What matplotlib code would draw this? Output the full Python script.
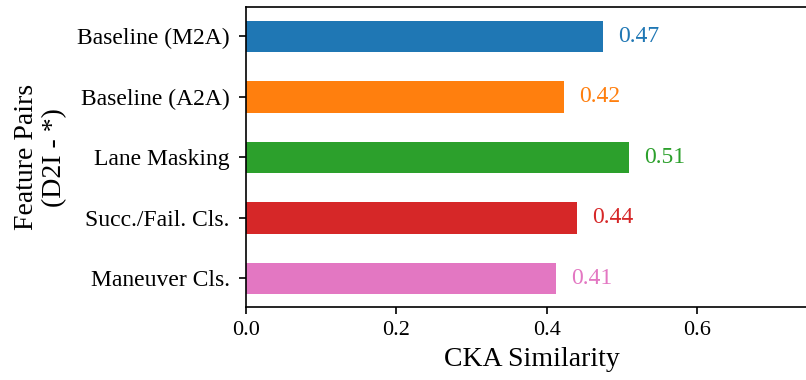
import matplotlib
matplotlib.use("Agg")
import matplotlib.pyplot as plt

categories = ["Baseline (M2A)", "Baseline (A2A)", "Lane Masking", "Succ./Fail. Cls.", "Maneuver Cls."]
values = [0.475, 0.423, 0.509, 0.440, 0.412]
labels = ["0.47", "0.42", "0.51", "0.44", "0.41"]
colors = ["#1f77b4", "#ff7f0e", "#2ca02c", "#d62728", "#e377c2"]
xticks = [0.0, 0.2, 0.4, 0.6]

plt.rcParams['font.family'] = ['Liberation Serif', 'DejaVu Serif']
plt.rcParams['mathtext.fontset'] = 'stix'

fig = plt.figure(figsize=(8.06, 3.8), dpi=100)
ax = fig.add_axes([0.3048, 0.1913, 0.710, 0.7895])

ypos = list(range(len(categories)))
ax.barh(ypos, values, height=0.52, color=colors)
for y, v, lab, c in zip(ypos, values, labels, colors):
    ax.text(v + 0.02, y, lab, color=c, fontsize=17, va='center', ha='left')

ax.set_yticks(ypos)
ax.set_yticklabels(categories, fontsize=17)
ax.set_ylim(4.48, -0.48)
ax.set_xlim(0, 0.76)
ax.set_xticks(xticks)
ax.set_xticklabels([f"{t:.1f}" for t in xticks], fontsize=16)
ax.tick_params(axis='y', length=5, width=1.2, pad=6.5)
ax.tick_params(axis='x', length=5, width=1.2, pad=5)
ax.set_xlabel("CKA Similarity", fontsize=20, labelpad=5)
ax.set_ylabel("Feature Pairs\n(D2I - *)", fontsize=20, labelpad=7)
for s in ax.spines.values():
    s.set_linewidth(1.2)

fig.savefig("out.png", dpi=100)
